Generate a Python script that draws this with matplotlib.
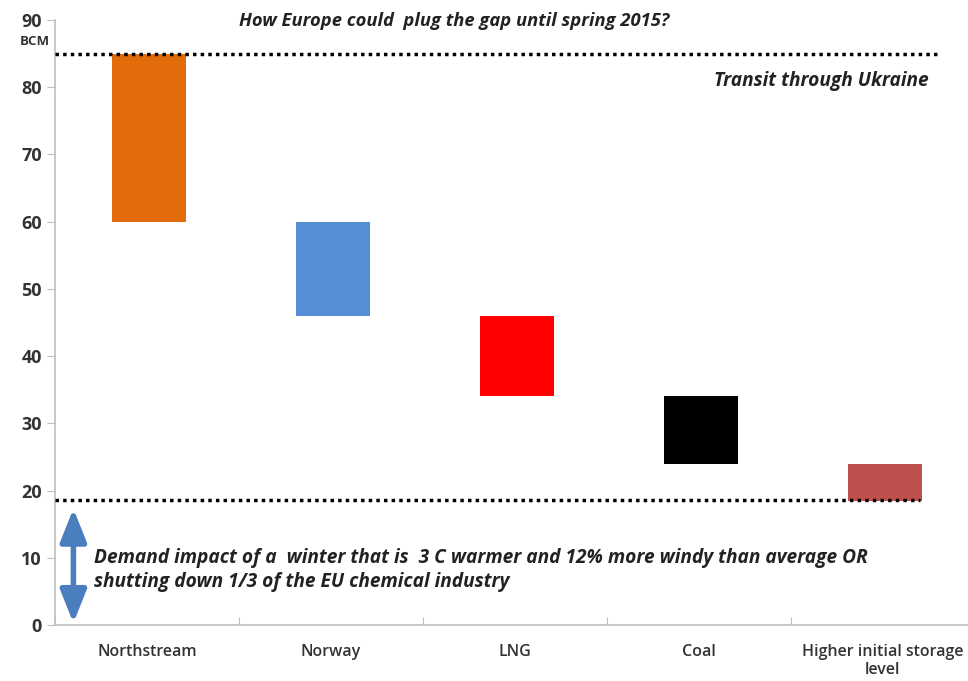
import numpy as np
import matplotlib.pyplot as plt

plt.rcParams['font.family'] = ['Open Sans', 'DejaVu Sans']

categories = ['Northstream', 'Norway', 'LNG', 'Coal', 'Higher initial storage\nlevel']
bar_top = [85, 60, 46, 34, 24]
bar_bottom = [60, 46, 34, 24, 18.5]
colors = ['#E36C0A', '#558ED5', '#FF0000', '#000000', '#C0504D']
transit_level = 85
demand_level = 18.6

fig = plt.figure(figsize=(9.68, 6.81), dpi=100)
ax = fig.add_axes([55/968, 56/681, 920/968, 605/681])

x = np.arange(len(categories))
heights = np.array(bar_top) - np.array(bar_bottom)
ax.bar(x + 0.01, heights, bottom=bar_bottom, width=0.4, color=colors, zorder=2)

# reference levels
ax.plot([-0.5, 4.3], [transit_level, transit_level], color='black', lw=2.5,
        linestyle=(0, (1, 1.2)), zorder=3)
ax.plot([-0.5, 4.2], [demand_level, demand_level], color='black', lw=2.5,
        linestyle=(0, (1, 1.2)), zorder=3)

# double arrow
ax.annotate('', xy=(-0.4, 0.3), xytext=(-0.4, demand_level - 1.3),
            arrowprops=dict(arrowstyle='<|-|>,head_length=1.0,head_width=0.4',
                            color='#4A7EBF', lw=4, mutation_scale=20,
                            shrinkA=0, shrinkB=0))

ax.text(1.67, 89.8, 'How Europe could  plug the gap until spring 2015?',
        ha='center', va='center', fontsize=13.2, style='italic', weight='bold', color='#222222')
ax.text(4.25, 80.9, 'Transit through Ukraine', ha='right', va='center',
        fontsize=13.8, style='italic', weight='bold', color='#222222')
ax.text(-0.29, 8.2, 'Demand impact of a  winter that is  3 C warmer and 12% more windy than average OR\n'
        'shutting down 1/3 of the EU chemical industry',
        ha='left', va='center', fontsize=13.8, style='italic', weight='bold',
        color='#222222', linespacing=1.3)
ax.text(-0.53, 86.8, 'BCM', ha='right', va='center', fontsize=9.5, weight='bold',
        color='#333333', clip_on=False)

ax.set_xlim(-0.5, 4.5)
ax.set_ylim(0, 90)
ax.set_yticks(np.arange(0, 91, 10))
ax.set_xticks(np.arange(-0.5, 5, 1), minor=False)
ax.set_xticklabels([])
ax.set_xticks(x, minor=True)
ax.set_xticklabels(categories, minor=True, fontsize=11.5, weight='semibold', color='#333333',
                   linespacing=1.1)
ax.tick_params(axis='x', which='minor', length=0, pad=14)
ax.tick_params(axis='x', which='major', length=6, color='#BFBFBF', direction='in')
ax.tick_params(axis='y', length=6, color='#BFBFBF', labelsize=13, labelcolor='#333333')
for lab in ax.get_yticklabels():
    lab.set_fontweight('bold')

for s in ['top', 'right']:
    ax.spines[s].set_visible(False)
for s in ['left', 'bottom']:
    ax.spines[s].set_color('#BFBFBF')
    ax.spines[s].set_linewidth(1.2)

fig.savefig('out.png', dpi=100)
